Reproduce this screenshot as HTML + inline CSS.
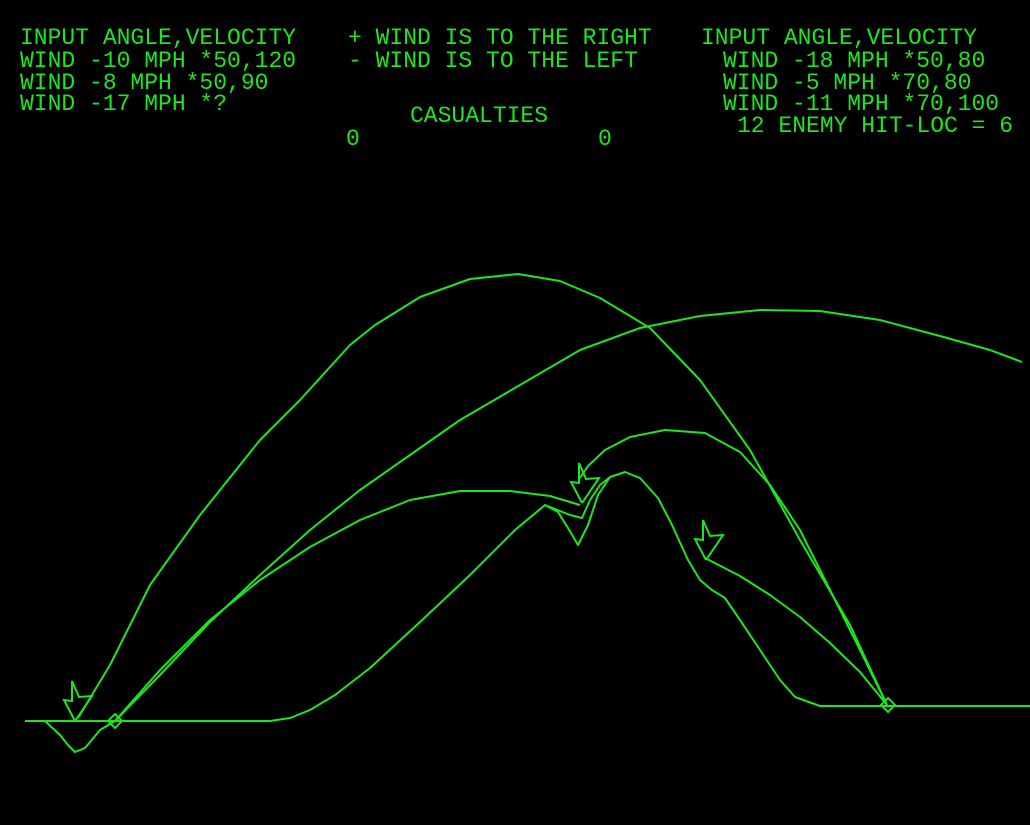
<!DOCTYPE html>
<html><head><meta charset="utf-8"><style>
html,body{margin:0;padding:0;background:#000;width:1030px;height:825px;overflow:hidden}
svg{display:block}
text{font-family:"Liberation Mono",monospace;font-size:23px;fill:#1ee61e}
</style></head><body>
<svg id="s" width="1030" height="825" viewBox="0 0 1030 825">
<rect width="1030" height="825" fill="#000"/>
<g>
<text x="20" y="44">INPUT ANGLE,VELOCITY</text>
<text x="20" y="67">WIND -10 MPH *50,120</text>
<text x="20" y="89">WIND -8 MPH *50,90</text>
<text x="20" y="110">WIND -17 MPH *?</text>
</g>
<g>
<text x="348" y="44">+ WIND IS TO THE RIGHT</text>
<text x="348" y="67">- WIND IS TO THE LEFT</text>
</g>
<g>
<text x="410" y="122">CASUALTIES</text>
<text x="346" y="145">0</text>
<text x="598" y="145">0</text>
</g>
<g>
<text x="701" y="44">INPUT ANGLE,VELOCITY</text>
<text x="723" y="67">WIND -18 MPH *50,80</text>
<text x="723" y="89">WIND -5 MPH *70,80</text>
<text x="723" y="110">WIND -11 MPH *70,100</text>
<text x="737" y="132">12 ENEMY HIT-LOC = 6</text>
</g>
<g id="plot"></g>
</svg>
<script>
const terrain = [[25,721],[45,721],[60,735],[68,745],[75,752],[85,748],[100,730],[115,721],[270,721],[290,718],[310,710],[335,695],[370,668],[420,622],[470,575],[515,530],[545,505],[558,512],[568,528],[578,545],[588,525],[598,495],[610,477],[625,472],[640,478],[658,498],[672,525],[688,560],[700,580],[712,590],[725,598],[740,620],[760,650],[780,680],[795,697],[820,706],[1030,706]];
const groundLine = [[25,721],[115,721]];
const hillEdge = [[545,505],[560,511],[570,515],[582,518],[590,500],[600,485],[610,477]];
const shotA = [[887,705],[850,625],[800,540],[750,450],[700,380],[650,328],[600,298],[560,281],[518,274],[470,279],[420,297],[375,325],[350,345],[300,400],[260,440],[200,515],[150,585],[110,665],[78,718]];
const shotB = [[115,721],[160,675],[210,622],[260,575],[310,530],[360,490],[410,455],[460,420],[520,385],[580,350],[640,328],[700,316],[760,310],[820,311],[880,320],[940,336],[990,350],[1022,362]];
const shotC = [[115,721],[160,670],[210,620],[260,580],[310,547],[360,520],[410,500],[460,491],[510,491],[550,496],[580,505]];
const shotD = [[887,705],[860,650],[830,590],[800,530],[770,485],[740,452],[705,433],[665,430],[630,437],[605,450],[588,466],[580,478]];
const shotE = [[887,705],[860,672],[830,643],[800,617],[770,595],[740,576],[705,558]];
const diamonds = [[115,721],[888,705]];
const arrows = [[75,721],[582,503],[706,560]];

const g = document.getElementById('plot');
const NS = 'http://www.w3.org/2000/svg';
const col = '#1ee61e';
function line(pts, name){
  const p = document.createElementNS(NS,'polyline');
  p.setAttribute('points', pts.map(q=>q.join(',')).join(' '));
  p.setAttribute('fill','none');p.setAttribute('stroke',col);p.setAttribute('stroke-width','2');
  p.setAttribute('stroke-linejoin','round');
  
  
  g.appendChild(p);
}
line(terrain,'terrain');
line(groundLine,'ground-line');
line(hillEdge,'crater-edge');
line(shotA,'trajectory-1');
line(shotB,'trajectory-2');
line(shotC,'trajectory-3');
line(shotD,'trajectory-4');
line(shotE,'trajectory-5');
diamonds.forEach(d=>{
  const p = document.createElementNS(NS,'polygon');
  const [x,y]=d;
  p.setAttribute('points',`${x},${y-7} ${x+7},${y} ${x},${y+7} ${x-7},${y}`);
  p.setAttribute('fill','none');p.setAttribute('stroke',col);p.setAttribute('stroke-width','2');
  
  
  g.appendChild(p);
});
const shape=[[0,0],[-11,-21],[-3,-20],[-3,-40],[4,-24],[17,-25],[0,0]];
arrows.forEach(a=>{
  const p = document.createElementNS(NS,'polyline');
  p.setAttribute('points',shape.map(s=>(a[0]+s[0])+','+(a[1]+s[1])).join(' '));
  p.setAttribute('fill','none');p.setAttribute('stroke',col);p.setAttribute('stroke-width','2');
  
  
  g.appendChild(p);
});
</script>
</body></html>
